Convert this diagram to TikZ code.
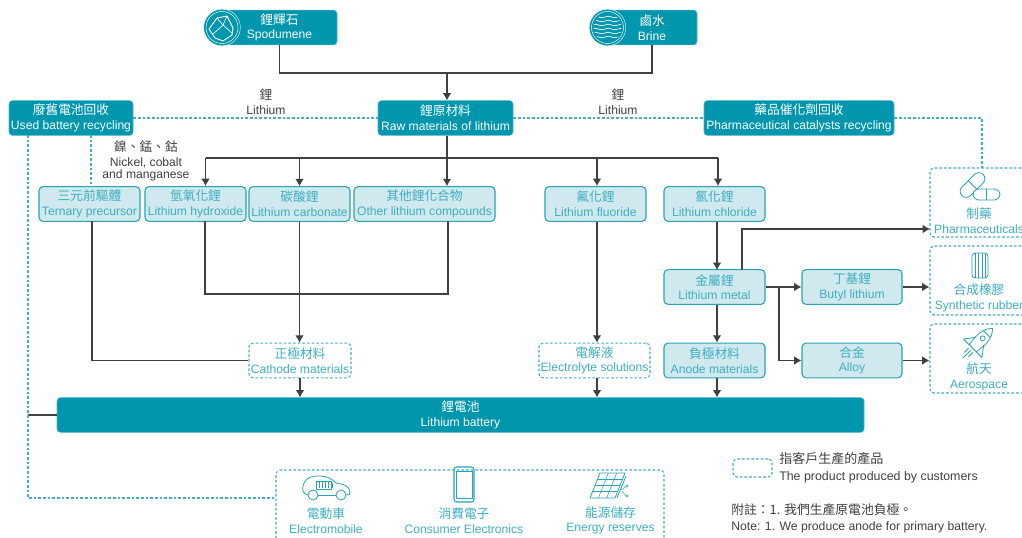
\documentclass[tikz,border=0pt]{standalone}
\usepackage{fontspec}
\usetikzlibrary{arrows.meta}
\setmainfont{Liberation Sans}
\newfontfamily\cjk[Scale=1.05]{Noto Sans CJK TC}
\definecolor{teal}{RGB}{0,150,173}
\definecolor{pale}{RGB}{208,233,238}
\definecolor{edge}{RGB}{38,163,181}
\definecolor{soft}{RGB}{62,174,192}
\definecolor{ink}{RGB}{64,64,64}
\newcommand{\duo}[2]{{\cjk #1}\\#2}
\newcommand{\tightlines}{\lineskiplimit=-4pt\relax}
\begin{document}
\begin{tikzpicture}
    [
    x=0.75pt,y=-0.75pt,
    every node/.style={font=\fontsize{9.1}{11}\selectfont\tightlines,align=center,inner sep=0pt},
    darkbox/.style={rectangle,rounded corners=2.5pt,fill=teal,draw=teal!70,line width=0.4pt,text=white,minimum height=26pt},
    lightbox/.style={rectangle,rounded corners=3pt,fill=pale,draw=edge,line width=0.8pt,text=soft,minimum height=26pt},
    dashbox/.style={rectangle,rounded corners=3pt,draw=soft,line width=0.8pt,dash pattern=on 2pt off 1.5pt,text=soft,minimum height=26pt},
    label/.style={text=ink},
    sublabel/.style={text=soft},
    link/.style={draw=ink,line width=0.8pt},
    arrow/.style={link,-{Latex[length=5.5pt,width=6.5pt]}},
    recycle/.style={draw=soft,line width=0.8pt,dash pattern=on 2pt off 1.5pt},
    icon/.style={draw=edge,line width=0.6pt,line join=round}
    ]
    \useasboundingbox (0,0) rectangle (1022,538);
    \clip (0,0) rectangle (1022,538);
    % sources
    \node (spodumene) at (279.5,27.5) [darkbox,minimum width=86.25pt] {\duo{鋰輝石}{Spodumene}};
    \node (brine) at (652,27.5) [darkbox,minimum width=67.5pt] {\duo{鹵水}{Brine}};
    \node (spodumeneicon) at (222,27.5) [circle,fill=teal,draw=white,line width=0.3pt,minimum size=27.5pt] {};
    \node (brineicon) at (607.5,27.5) [circle,fill=teal,draw=white,line width=0.3pt,minimum size=27.5pt] {};
    \draw [white,line width=0.35pt] (222,27.5) circle (16);
    \draw [white,line width=0.35pt] (607.5,27.5) circle (16);
    \draw [white,line width=0.7pt,line join=round] (209,29) -- (217,18) -- (227,16) -- (233,28) -- (232,35) -- (223,41) -- (215,38) -- cycle;
    \draw [white,line width=0.5pt,line join=round] (217,18) -- (223,25) -- (227,16) (223,25) -- (212,35) (223,25) -- (232,33);
    \begin{scope}
      \clip (607.5,27.5) circle (14);
      \foreach \wavey in {17,21,25,29,33,37}
        \draw [white,line width=0.5pt] (592,\wavey) .. controls (597,\wavey-3) and (600,\wavey+3) .. (605,\wavey) .. controls (610,\wavey-3) and (613,\wavey+3) .. (618,\wavey) .. controls (620,\wavey-1) and (622,\wavey-1) .. (624,\wavey);
    \end{scope}
    % recycling and raw materials
    \node (usedbattery) at (71,118) [darkbox,minimum width=93pt] {\duo{廢舊電池回收}{Used battery recycling}};
    \node (raw) at (445.5,118) [darkbox,minimum width=101.25pt] {\duo{鋰原材料}{Raw materials of lithium}};
    \node (catalyst) at (799,118) [darkbox,minimum width=142.5pt] {\duo{藥品催化劑回收}{Pharmaceutical catalysts recycling}};
    \node (lithiumleft) at (266,102) [label] {\duo{鋰}{Lithium}};
    \node (lithiumright) at (618,102) [label] {\duo{鋰}{Lithium}};
    \node (nickel) at (146,161) [label,font=\fontsize{9.1}{9.2}\selectfont\tightlines] {{\cjk 鎳、錳、鈷}\\[1.5pt]Nickel, cobalt\\and manganese};
    % compounds
    \node (ternary) at (89.5,204) [lightbox,minimum width=75.75pt] {\duo{三元前驅體}{Ternary precursor}};
    \node (hydroxide) at (195.5,204) [lightbox,minimum width=75.75pt] {\duo{氫氧化鋰}{Lithium hydroxide}};
    \node (carbonate) at (299.5,204) [lightbox,minimum width=75.75pt] {\duo{碳酸鋰}{Lithium carbonate}};
    \node (other) at (424.5,204) [lightbox,minimum width=105.75pt] {\duo{其他鋰化合物}{Other lithium compounds}};
    \node (fluoride) at (595.5,204) [lightbox,minimum width=75.75pt] {\duo{氟化鋰}{Lithium fluoride}};
    \node (chloride) at (714.5,204) [lightbox,minimum width=75.75pt] {\duo{氯化鋰}{Lithium chloride}};
    \node (metal) at (714.5,287) [lightbox,minimum width=75.75pt] {\duo{金屬鋰}{Lithium metal}};
    \node (butyl) at (852,287) [lightbox,minimum width=75pt] {\duo{丁基鋰}{Butyl lithium}};
    \node (alloy) at (852,360.5) [lightbox,minimum width=75pt] {\duo{合金}{Alloy}};
    \node (anode) at (714.5,360.5) [lightbox,minimum width=75.75pt] {\duo{負極材料}{Anode materials}};
    \node (electrolyte) at (594.5,360.5) [dashbox,minimum width=83.25pt] {\duo{電解液}{Electrolyte solutions}};
    \node (cathode) at (300,360.5) [dashbox,minimum width=76.5pt] {\duo{正極材料}{Cathode materials}};
    \node (battery) at (460.5,415) [darkbox,minimum width=605.25pt] {\duo{鋰電池}{Lithium battery}};
    % customer products
    \node (pharma) at (980,202.5) [dashbox,minimum width=75pt,minimum height=51.75pt] {};
    \node (rubber) at (980,280.5) [dashbox,minimum width=75pt,minimum height=51.75pt] {};
    \node (aerospace) at (980,358.5) [dashbox,minimum width=75pt,minimum height=51.75pt] {};
    \node (pharmatext) at (979,220.5) [sublabel] {\duo{制藥}{Pharmaceuticals}};
    \node (rubbertext) at (979,298) [sublabel] {\duo{合成橡膠}{Synthetic rubber}};
    \node (aerospacetext) at (979,377) [sublabel] {\duo{航天}{Aerospace}};
    \node (uses) at (470,510) [dashbox,minimum width=291pt,minimum height=60pt] {};
    \node (cartext) at (326,520.5) [sublabel] {\duo{電動車}{Electromobile}};
    \node (phonetext) at (464,520.5) [sublabel] {\duo{消費電子}{Consumer Electronics}};
    \node (solartext) at (610.5,520.5) [sublabel] {\duo{能源儲存}{Energy reserves}};
    % legend and note
    \node (legendbox) at (752.5,468) [dashbox,minimum width=29.25pt,minimum height=13.5pt] {};
    \node (legendtext) at (779,467.5) [label,anchor=west,align=left,font=\fontsize{9.3}{12.5}\selectfont\tightlines] {\duo{指客戶生產的產品}{The product produced by customers}};
    \node (note) at (731,518.5) [label,anchor=west,align=left,font=\fontsize{9.15}{12}\selectfont\tightlines] {\duo{附註：1. 我們生產原電池負極。}{Note: 1. We produce anode for primary battery.}};
    % turning points
    \coordinate (feed) at (447,73);
    \coordinate (bus) at (447,158);
    \coordinate (hydroxidein) at (205.5,186);
    \coordinate (chloridein) at (718,186);
    \coordinate (fluoridex) at (597,186);
    \coordinate (chloridex) at (717,270);
    \coordinate (hydroxideout) at (205,221);
    \coordinate (otherout) at (448,221);
    \coordinate (merge) at (300,294);
    \coordinate (ternaryout) at (92,221);
    \coordinate (metalup) at (742,270);
    \coordinate (pharmain) at (930,229);
    \coordinate (split) at (779,287);
    \coordinate (usedleft) at (28,135);
    \coordinate (usedright) at (91,135);
    \coordinate (usein) at (276,498);
    \coordinate (catalystcorner) at (982,118);
    \coordinate (pharmatop) at (982,168);
    % solid links
    \draw [link] (spodumene.south) -- (spodumene.south |- feed) -- (brine.south |- feed) -- (brine.south);
    \draw [arrow] (feed) -- (feed |- raw.north);
    \draw [arrow] (raw.south -| feed) -- (feed |- other.north);
    \draw [link] (hydroxidein |- bus) -- (chloridein |- bus);
    \draw [arrow] (hydroxidein |- bus) -- (hydroxidein);
    \draw [arrow] (carbonate.north |- bus) -- (carbonate.north);
    \draw [arrow] (fluoridex |- bus) -- (fluoridex);
    \draw [arrow] (chloridein |- bus) -- (chloridein);
    \draw [link] (ternaryout) |- (cathode.west);
    \draw [link] (hydroxideout) |- (merge) -| (otherout);
    \draw [arrow] (carbonate.south) -- (cathode.north -| carbonate.south);
    \draw [arrow] (cathode.south) -- (battery.north -| cathode.south);
    \draw [arrow] (fluoride.south -| fluoridex) -- (electrolyte.north -| fluoridex);
    \draw [arrow] (electrolyte.south -| fluoridex) -- (battery.north -| fluoridex);
    \draw [arrow] (chloride.south -| chloridex) -- (chloridex);
    \draw [arrow] (metal.south -| chloridex) -- (anode.north -| chloridex);
    \draw [arrow] (anode.south -| chloridex) -- (battery.north -| chloridex);
    \draw [arrow] (metalup) |- (pharmain);
    \draw [arrow] (metal.east) -- (butyl.west);
    \draw [arrow] (split) |- (alloy.west);
    \draw [arrow] (butyl.east) -- (rubber.west |- butyl.east);
    \draw [arrow] (alloy.east) -- (aerospace.west |- alloy.east);
    \draw [link] (battery.west) -- (battery.west -| usedleft);
    % recycling links
    \draw [recycle] (usedbattery.east) -- (raw.west);
    \draw [recycle] (raw.east) -- (catalyst.west);
    \draw [recycle] (catalyst.east) -- (catalystcorner) -- (pharmatop);
    \draw [recycle] (usedright) -- (usedright |- ternary.north);
    \draw [recycle] (usedleft) |- (usein);
    % pills
    \begin{scope}[icon,rotate around={45:(972.5,185)}]
      \draw [rounded corners=4.5pt] (957.5,179) rectangle (987.5,191);
      \draw (972.5,179) -- (972.5,191);
    \end{scope}
    \draw [icon,fill=white,rounded corners=4.5pt] (973,189) rectangle (1000,200);
    \draw [icon] (986.5,189) -- (986.5,200);
    % tyre
    \draw [icon,rounded corners=2.5pt] (972,253) rectangle (988,278);
    \foreach \treadx in {975,978,982,985}
      \draw [icon] (\treadx,253) -- (\treadx,278);
    % rocket
    \begin{scope}[icon,shift={(977,344)},rotate=-45]
      \draw (0,-22) .. controls (7,-15) and (7,-6) .. (5,6) -- (-5,6) .. controls (-7,-6) and (-7,-15) .. (0,-22);
      \draw (-5,-14) -- (5,-14);
      \draw (0,-8) circle (2.5);
      \draw (-5.5,-4) -- (-13,6) -- (-5,6) (5.5,-4) -- (13,6) -- (5,6);
      \draw (-3,9) -- (-3,15) (0,9) -- (0,20) (3,9) -- (3,15);
    \end{scope}
    % car
    \draw [icon] (308,495) .. controls (303,494) and (302,490) .. (303,486) .. controls (304,480) and (309,476) .. (318,476) .. controls (328,476) and (332,479) .. (336,483) .. controls (343,484) and (350,486) .. (350,492) .. controls (350,495) and (349,495) .. (346,495);
    \draw [icon] (318,495) -- (336,495);
    \draw [icon] (313,495) circle (5);
    \draw [icon] (341,495) circle (5);
    \draw [icon] (316,481) rectangle (331,489);
    \draw [icon] (331,483) -- (332.5,483) -- (332.5,487) -- (331,487);
    \foreach \cellx in {319,322,325,328}
      \draw [icon,line width=0.4pt] (\cellx,482) -- (\cellx,488);
    % phone
    \draw [icon,line width=0.8pt,rounded corners=2pt] (454,467) rectangle (474,502);
    \draw [icon,line width=0.4pt] (456,471) rectangle (472,498);
    % solar panel
    \draw [icon] (600,473) -- (625,473) -- (615,498) -- (590,498) -- cycle;
    \foreach \gridn in {1,2}
      \draw [icon,line width=0.4pt] ({600+\gridn*25/3},473) -- ({590+\gridn*25/3},498);
    \foreach \gridn in {1,2,3}
      \draw [icon,line width=0.4pt] ({600-\gridn*2.5},{473+\gridn*6.25}) -- ({625-\gridn*2.5},{473+\gridn*6.25});
    \draw [icon] (617,498) -- (626,476);
    \draw [icon,line width=0.4pt] (621,490) -- (626,486.5) (622,491) -- (626,496);
    \draw [icon,line width=0.4pt] (627,486) circle (1.3);
    \draw [icon,line width=0.4pt] (627,496) circle (1.3);
  \end{tikzpicture}
\end{document}
